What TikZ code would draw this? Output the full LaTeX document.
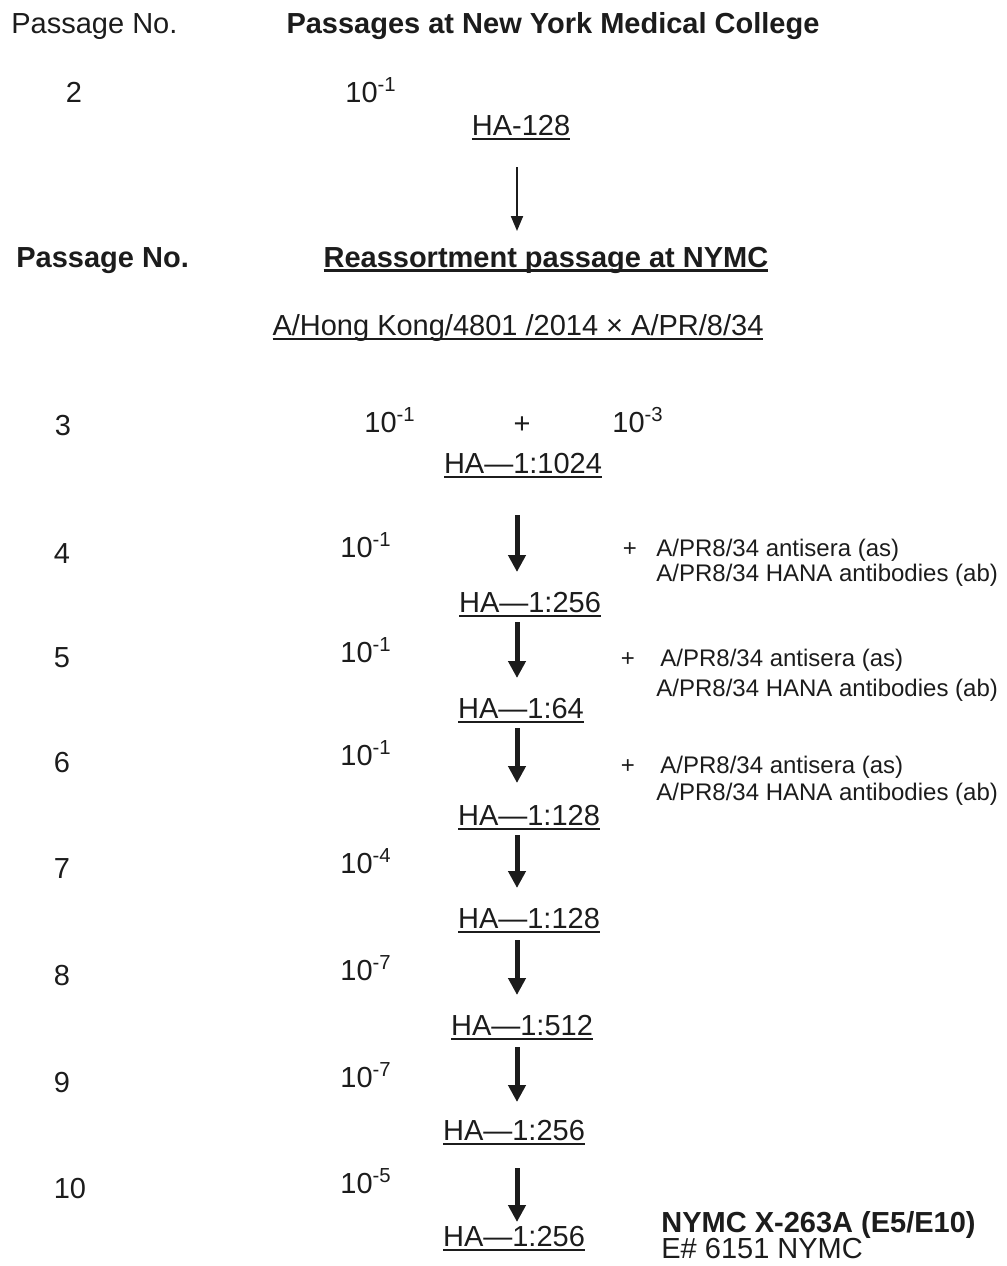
\documentclass[tikz,border=0pt]{standalone}
\usepackage{fontspec}
\setmainfont{Liberation Sans}
\usetikzlibrary{arrows.meta}
\definecolor{inkc}{HTML}{1C1C1C}
% underline drawn at a fixed depth, through descenders
\newcommand\ulw[2][0.9pt]{\setbox0\hbox{#2}\rlap{\rule[-2.4pt]{\wd0}{#1}}\box0}
\tikzset{
  txt/.style     = {inner sep=0pt, text=inkc, anchor=base,
                    font=\fontsize{14.5}{17}\selectfont},
  txtw/.style    = {txt, anchor=base west},
  head/.style    = {txt, font=\fontsize{14.5}{17}\selectfont\bfseries},
  headw/.style   = {head, anchor=base west},
  note/.style    = {txtw, font=\fontsize{12}{14}\selectfont},
  arr/.style     = {-{Triangle[length=8.5pt,width=8.5pt]}, line width=2.5pt,
                    draw=inkc},
  arrthin/.style = {-{Triangle[length=7.5pt,width=6pt]}, line width=1pt,
                    draw=inkc},
}

\begin{document}
\begin{tikzpicture}[x=0.5pt, y=-0.5pt]
  \useasboundingbox (0,0) rectangle (1007,1266);
  % first block
  \node[txtw] (pnoa) at (11,33) {Passage No.};
  \node[head] (nyc) at (553,33) {Passages at New York Medical College};
  \node[txt] (pn2) at (74,102) {2};
  \node[txtw] (dil2) at (345,102) {10\textsuperscript{-1}};
  \node[txt] (ha2) at (521,135) {\ulw{HA-128}};
  \coordinate (as2) at (517,167);
  \coordinate (ae2) at (517,231);
  \draw[arrthin] (as2) -- (ae2);

  % reassortment block
  \node[headw] (pnob) at (16,267) {Passage No.};
  \node[head] (reas) at (546,267) {\ulw[1.4pt]{Reassortment passage at NYMC}};
  \node[txt] (cross) at (518,335) {\ulw{A/Hong Kong/4801 /2014 × A/PR/8/34}};

  \node[txtw] (dil3a) at (364,432) {10\textsuperscript{-1}};
  \node[txt] (plus3) at (522,433) {+};
  \node[txtw] (dil3b) at (612,432) {10\textsuperscript{-3}};

  \foreach \n/\x/\y in {3/63/435, 4/62/563, 5/62/667, 6/62/772, 7/62/878,
                        8/62/985, 9/62/1092, 10/70/1198}
    \node[txt] (pn\n) at (\x,\y) {\n};

  \foreach \n/\y/\e in {4/557/1, 5/662/1, 6/765/1, 7/873/4, 8/980/7,
                        9/1087/7, 10/1193/5}
    \node[txtw] (dil\n) at (340,\y) {10\textsuperscript{-\e}};

  \foreach \n/\x/\y/\t in {3/523/473/1024, 4/530/612/256, 5/521/718/64,
                           6/529/825/128, 7/529/928/128, 8/522/1035/512,
                           9/514/1140/256, 10/514/1246/256}
    \node[txt] (ha\n) at (\x,\y) {\ulw{HA---1:\t}};

  \foreach \n/\ya/\yb in {4/515/572, 5/622/678, 6/728/783, 7/835/888,
                          8/940/995, 9/1047/1102, 10/1168/1222}{%
    \coordinate (as\n) at (517,\ya);
    \coordinate (ae\n) at (517,\yb);
    \draw[arr] (as\n) -- (ae\n);}

  % antisera added at passages 4-6
  \foreach \n/\xp/\xa/\ya/\yb in {4/630/656/556/581, 5/628/660/666/696,
                                  6/628/660/773/800}{%
    \node[note, anchor=base] (pl\n) at (\xp,\ya) {+};
    \node[note] (ant\n) at (\xa,\ya) {A/PR8/34 antisera (as)};
    \node[note] (hana\n) at (656,\yb) {A/PR8/34 HANA antibodies (ab)};}

  \node[headw] (xname) at (661,1232) {NYMC X-263A (E5/E10)};
  \node[txtw] (egg) at (661,1258) {E\# 6151 NYMC};
\end{tikzpicture}
\end{document}
